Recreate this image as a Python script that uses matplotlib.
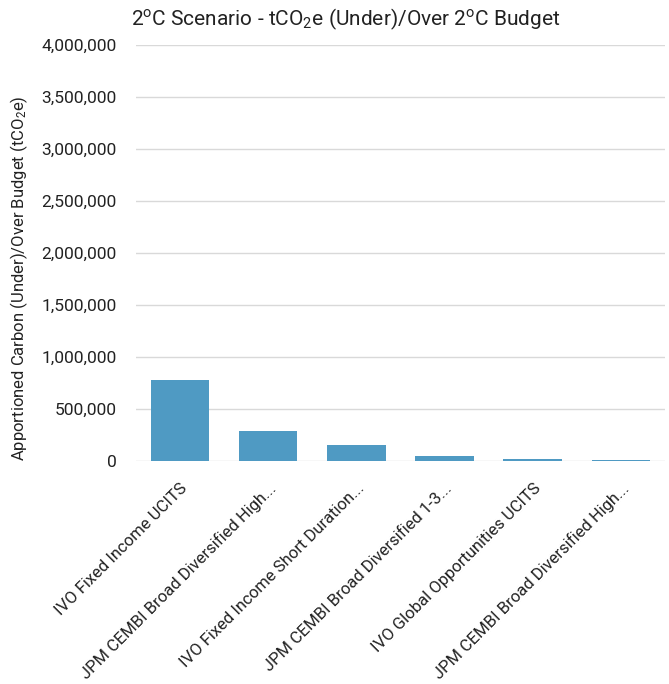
import numpy as np
import matplotlib
matplotlib.use("Agg")
import matplotlib.pyplot as plt
from matplotlib.ticker import FuncFormatter

plt.rcParams['font.family'] = ['Roboto', 'DejaVu Sans']
plt.rcParams['mathtext.fontset'] = 'custom'
plt.rcParams['mathtext.rm'] = 'Roboto'
plt.rcParams['mathtext.it'] = 'Roboto'

funds = [
    "IVO Fixed Income UCITS",
    "JPM CEMBI Broad Diversified High...",
    "IVO Fixed Income Short Duration...",
    "JPM CEMBI Broad Diversified 1-3...",
    "IVO Global Opportunities UCITS",
    "JPM CEMBI Broad Diversified High...",
]
over_budget = [784000, 287000, 155000, 48000, 23000, 10000]
y_ticks = [0, 500000, 1000000, 1500000, 2000000, 2500000, 3000000, 3500000, 4000000]

bar_color = "#4F9AC3"
text_color = "#222222"

fig = plt.figure(figsize=(6.69, 6.84), dpi=100)
ax = fig.add_axes([0.203, 0.326, 0.791, 0.608])

x = np.arange(len(funds))
ax.bar(x, over_budget, width=0.665, color=bar_color, zorder=3)

ax.set_xlim(-0.5, len(funds) - 0.5)
ax.set_ylim(0, 4000000)
ax.set_yticks(y_ticks)
ax.yaxis.set_major_formatter(FuncFormatter(lambda v, p: f"{v:,.0f}"))
ax.grid(axis="y", color="#D9D9D9", linewidth=1, zorder=0)
ax.set_axisbelow(True)
for s in ax.spines.values():
    s.set_visible(False)

ax.set_xticks(x)
ax.set_xticklabels(funds, rotation=45, ha="right", rotation_mode="anchor",
                   fontsize=12, color=text_color)
ax.tick_params(axis="x", length=0, pad=14)
ax.tick_params(axis="y", length=0, pad=14, labelsize=12.5, labelcolor=text_color)

ax.set_ylabel("Apportioned Carbon (Under)/Over Budget (tCO$_2$e)", fontsize=12,
              color=text_color)
ax.yaxis.set_label_coords(-0.2, 0.44)

fig.text(0.517, 0.972, "2$^{o}$C Scenario - tCO$_2$e (Under)/Over 2$^{o}$C Budget",
         fontsize=15, color=text_color, ha="center", va="center")

fig.savefig("out.png", dpi=100)
